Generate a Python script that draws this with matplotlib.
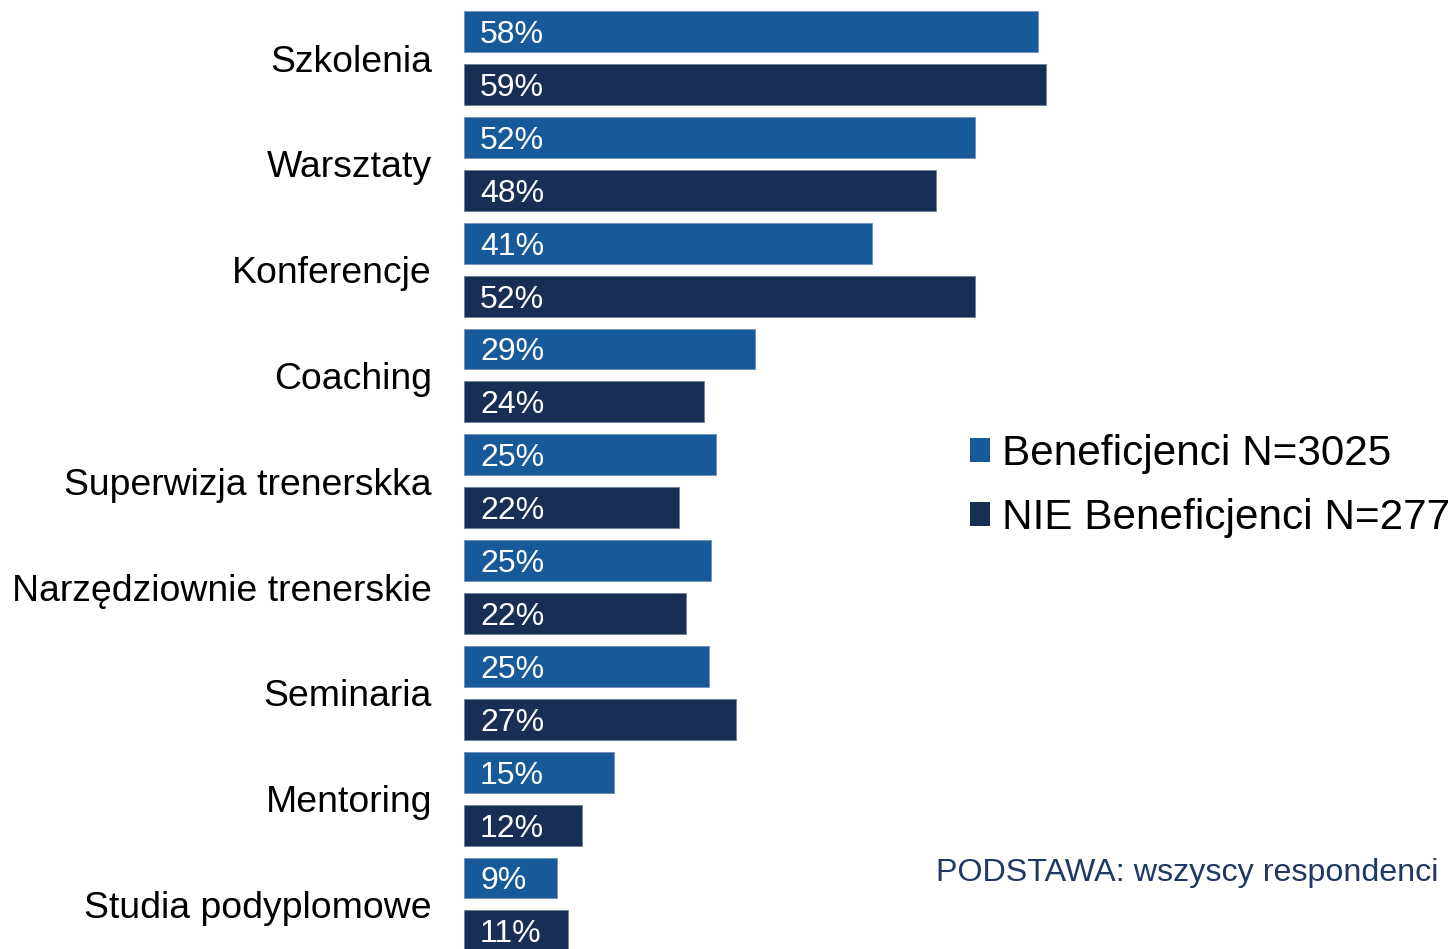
import matplotlib
matplotlib.use("Agg")
import matplotlib.pyplot as plt
import numpy as np

plt.rcParams['font.family'] = ['Liberation Sans', 'DejaVu Sans']

categories = ["Szkolenia", "Warsztaty", "Konferencje", "Coaching",
              "Superwizja trenerskka", "Narzędziownie trenerskie",
              "Seminaria", "Mentoring", "Studia podyplomowe"]
benef_values = [58.2, 51.8, 41.4, 29.5, 25.6, 25.1, 24.8, 15.2, 9.4]
nie_values = [59.0, 47.9, 51.8, 24.3, 21.8, 22.5, 27.6, 12.0, 10.5]
benef_labels = ["58%", "52%", "41%", "29%", "25%", "25%", "25%", "15%", "9%"]
nie_labels = ["59%", "48%", "52%", "24%", "22%", "22%", "27%", "12%", "11%"]
series_names = ["Beneficjenci N=3025", "NIE Beneficjenci N=277"]

c_light = "#175A99"
c_dark = "#172F54"

fig = plt.figure(figsize=(14.55, 9.49), dpi=100)
ax = fig.add_axes([0, 0, 1, 1])

n = len(categories)
y_b = np.arange(n) * 2.0
y_n = y_b + 1.0
h = 0.775

b1 = ax.barh(y_b, benef_values, height=h, color=c_light, edgecolor="#6f8fb5",
             linewidth=0.6, label=series_names[0])
b2 = ax.barh(y_n, nie_values, height=h, color=c_dark, edgecolor="#6f7f99",
             linewidth=0.6, label=series_names[1])

px = 9.86  # pixels per percent
for y, lab in zip(y_b, benef_labels):
    ax.text(16 / px, y, lab, color="white", fontsize=23, va="center_baseline", ha="left")
for y, lab in zip(y_n, nie_labels):
    ax.text(16 / px, y, lab, color="white", fontsize=23, va="center_baseline", ha="left")
for y, cat in zip(y_b + 0.5, categories):
    ax.text(-32 / px, y, cat, color="black", fontsize=26.95, va="center_baseline", ha="right")

ax.set_xlim(-464 / px, (1455 - 464) / px)
u = 52.9
ax.set_ylim((949 - 31.6) / u, -31.6 / u)
ax.axis("off")

leg = ax.legend(handles=[b1, b2], loc="center left",
                bbox_to_anchor=(970 / 1455, 1 - 486 / 949),
                frameon=False, fontsize=30.4, handlelength=0.48, handleheight=0.48,
                handletextpad=0.28, labelspacing=0.56, borderpad=0, borderaxespad=0)
for p in leg.get_patches():
    p.set_linewidth(0)

fig.text(1438 / 1455, 1 - 869 / 949, "PODSTAWA: wszyscy respondenci", color="#1F3864",
         fontsize=23.2, ha="right", va="center_baseline")

fig.savefig("out.png", dpi=100)
